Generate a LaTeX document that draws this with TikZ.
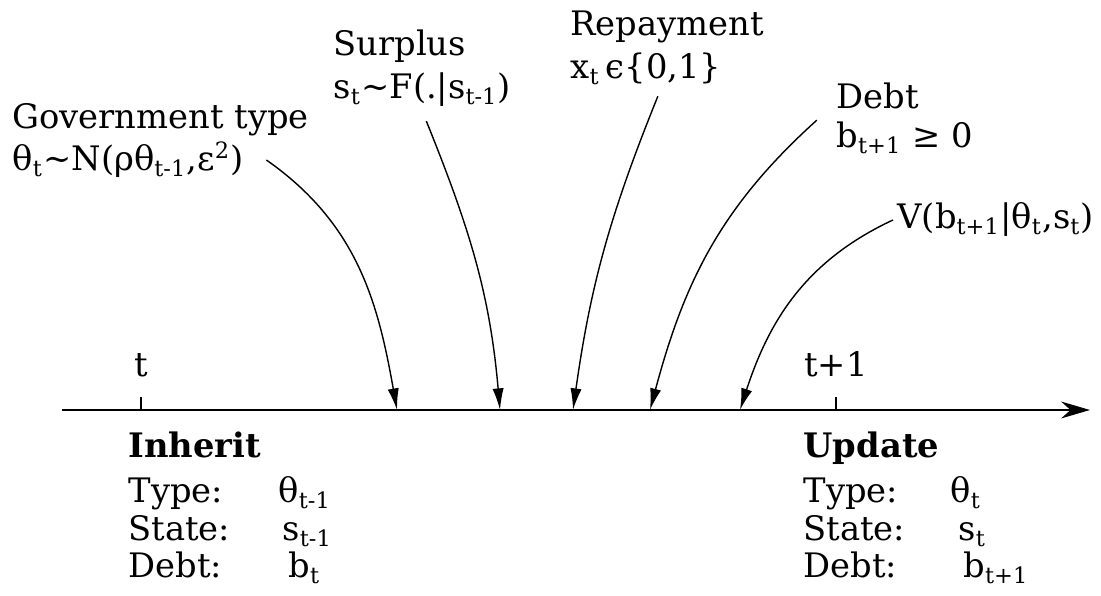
\documentclass[tikz,border=0pt]{standalone}
\usepackage{fontspec}
\setmainfont{DejaVu Serif}
\usetikzlibrary{arrows.meta,positioning}

\begin{document}
\begin{tikzpicture}[x=1cm,y=1cm,
    lbl/.style={inner sep=0pt,anchor=base west,font=\fontsize{12}{14}\selectfont},
    ticklbl/.style={lbl,anchor=base},
    tickmark/.style={line width=0.4pt},
    evarrow/.style={-{Latex[length=2.7mm,width=1.4mm]},line width=0.5pt}]
  \useasboundingbox (0,0) rectangle (13.7625,7.45);
  \coordinate (axL) at (0.775,2.325);
  \coordinate (axR) at (13.625,2.325);
  \draw[line width=0.9pt,-{Stealth[length=3.6mm,width=2.1mm]}] (axL) -- (axR);
  \coordinate (tnow) at (1.7625,2.325);
  \coordinate (tnext) at (10.45,2.325);
  \draw[tickmark] (tnow) -- ++(0,0.16);
  \draw[tickmark] (tnext) -- ++(0,0.16);
  \node[ticklbl] (tnowlbl) at (1.7625,2.7375) {t};
  \node[ticklbl] (tnextlbl) at (10.45,2.7375) {t+1};
  \coordinate (evtype) at (4.9625,2.325);
  \coordinate (evsurplus) at (6.25,2.325);
  \coordinate (evrepay) at (7.1625,2.325);
  \coordinate (evdebt) at (8.125,2.325);
  \coordinate (evvalue) at (9.25,2.325);

  \node[lbl] (govn) at (0.15,5.8375) {Government type};
  \node[lbl] (govf) at (0.15,5.3125)
    {θ\textsubscript{t}\textasciitilde N(ρθ\textsubscript{t-1},ε\textsuperscript{2})};
  \node[lbl] (surn) at (4.1625,6.75) {Surplus};
  \node[lbl] (surf) at (4.1625,6.2125)
    {s\textsubscript{t}\textasciitilde F(.|s\textsubscript{t-1})};
  \node[lbl] (repn) at (7.125,7.0) {Repayment};
  \node[lbl] (repf) at (7.125,6.4625) {x\textsubscript{t}\,ϵ\{0,1\}};
  \node[lbl] (debtn) at (10.45,6.0875) {Debt};
  \node[lbl] (debtf) at (10.45,5.6) {b\textsubscript{t+1} ≥ 0};
  \node[lbl] (valf) at (11.2125,4.5875)
    {V(b\textsubscript{t+1}|θ\textsubscript{t},s\textsubscript{t})};

  \draw[evarrow] ([xshift=2.75mm]govf.east) to[out=-35,in=100] (evtype);
  \draw[evarrow] ([xshift=0.5mm,yshift=-1.7mm]surf.south) to[out=-68,in=95] (evsurplus);
  \draw[evarrow] ([xshift=1.5mm,yshift=-1.4mm]repf.south) to[out=-112,in=82] (evrepay);
  \draw[evarrow] ([xshift=-2.4mm,yshift=0.2mm]debtf.north west) to[out=-138,in=75] (evdebt);
  \draw[evarrow] ([xshift=-0.5mm]valf.west) to[out=-155,in=72] (evvalue);

  \node[lbl] (inhh) at (1.6,1.725) {\bfseries Inherit};
  \node[lbl] (inht) at (1.6,1.1625) {Type:};
  \node[lbl] (inhs) at (1.6,0.6875) {State:};
  \node[lbl] (inhd) at (1.6,0.225) {Debt:};
  \node[lbl] (inhtv) at (3.475,1.1625) {θ\textsubscript{t-1}};
  \node[lbl] (inhsv) at (3.525,0.6875) {s\textsubscript{t-1}};
  \node[lbl] (inhdv) at (3.6,0.225) {b\textsubscript{t}};

  \node[lbl] (updh) at (10.0375,1.725) {\bfseries Update};
  \node[lbl] (updt) at (10.0375,1.1625) {Type:};
  \node[lbl] (upds) at (10.0375,0.6875) {State:};
  \node[lbl] (updd) at (10.0375,0.225) {Debt:};
  \node[lbl] (updtv) at (11.875,1.1625) {θ\textsubscript{t}};
  \node[lbl] (updsv) at (11.975,0.6875) {s\textsubscript{t}};
  \node[lbl] (upddv) at (12.0375,0.225) {b\textsubscript{t+1}};
\end{tikzpicture}
\end{document}
